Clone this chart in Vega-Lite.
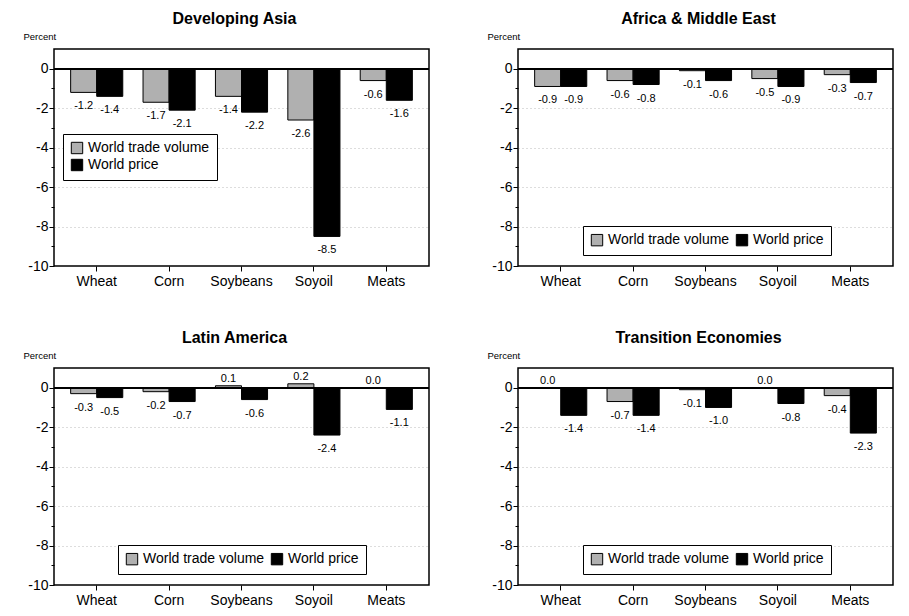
{
  "$schema": "https://vega.github.io/schema/vega-lite/v6.json",
  "padding": {"left": 22, "top": 10, "right": 0, "bottom": 0},
  "background": "white",
  "config": {
    "font": "Liberation Sans",
    "view": {"stroke": "black", "strokeWidth": 1.5},
    "title": {"fontSize": 16, "fontWeight": "bold", "color": "black", "anchor": "middle", "dx": -7, "offset": 4},
    "axis": {"labelColor": "black", "tickColor": "black", "titleColor": "black", "domain": false, "labelFont": "Liberation Sans", "titleFont": "Liberation Sans"},
    "legend": {"labelFontSize": 14, "labelColor": "black", "symbolType": "square", "symbolSize": 130, "symbolStrokeColor": "black", "symbolStrokeWidth": 1, "strokeColor": "black", "fillColor": "white", "padding": 7, "labelOffset": 4, "columnPadding": 4, "rowPadding": 1, "title": null}
  },
  "data": {"values": [
    {"region": "Developing Asia", "commodity": "Wheat", "series": "World trade volume", "value": -1.2},
    {"region": "Developing Asia", "commodity": "Wheat", "series": "World price", "value": -1.4},
    {"region": "Developing Asia", "commodity": "Corn", "series": "World trade volume", "value": -1.7},
    {"region": "Developing Asia", "commodity": "Corn", "series": "World price", "value": -2.1},
    {"region": "Developing Asia", "commodity": "Soybeans", "series": "World trade volume", "value": -1.4},
    {"region": "Developing Asia", "commodity": "Soybeans", "series": "World price", "value": -2.2},
    {"region": "Developing Asia", "commodity": "Soyoil", "series": "World trade volume", "value": -2.6},
    {"region": "Developing Asia", "commodity": "Soyoil", "series": "World price", "value": -8.5},
    {"region": "Developing Asia", "commodity": "Meats", "series": "World trade volume", "value": -0.6},
    {"region": "Developing Asia", "commodity": "Meats", "series": "World price", "value": -1.6},
    {"region": "Africa & Middle East", "commodity": "Wheat", "series": "World trade volume", "value": -0.9},
    {"region": "Africa & Middle East", "commodity": "Wheat", "series": "World price", "value": -0.9},
    {"region": "Africa & Middle East", "commodity": "Corn", "series": "World trade volume", "value": -0.6},
    {"region": "Africa & Middle East", "commodity": "Corn", "series": "World price", "value": -0.8},
    {"region": "Africa & Middle East", "commodity": "Soybeans", "series": "World trade volume", "value": -0.1},
    {"region": "Africa & Middle East", "commodity": "Soybeans", "series": "World price", "value": -0.6},
    {"region": "Africa & Middle East", "commodity": "Soyoil", "series": "World trade volume", "value": -0.5},
    {"region": "Africa & Middle East", "commodity": "Soyoil", "series": "World price", "value": -0.9},
    {"region": "Africa & Middle East", "commodity": "Meats", "series": "World trade volume", "value": -0.3},
    {"region": "Africa & Middle East", "commodity": "Meats", "series": "World price", "value": -0.7},
    {"region": "Latin America", "commodity": "Wheat", "series": "World trade volume", "value": -0.3},
    {"region": "Latin America", "commodity": "Wheat", "series": "World price", "value": -0.5},
    {"region": "Latin America", "commodity": "Corn", "series": "World trade volume", "value": -0.2},
    {"region": "Latin America", "commodity": "Corn", "series": "World price", "value": -0.7},
    {"region": "Latin America", "commodity": "Soybeans", "series": "World trade volume", "value": 0.1},
    {"region": "Latin America", "commodity": "Soybeans", "series": "World price", "value": -0.6},
    {"region": "Latin America", "commodity": "Soyoil", "series": "World trade volume", "value": 0.2},
    {"region": "Latin America", "commodity": "Soyoil", "series": "World price", "value": -2.4},
    {"region": "Latin America", "commodity": "Meats", "series": "World trade volume", "value": 0.0},
    {"region": "Latin America", "commodity": "Meats", "series": "World price", "value": -1.1},
    {"region": "Transition Economies", "commodity": "Wheat", "series": "World trade volume", "value": 0.0},
    {"region": "Transition Economies", "commodity": "Wheat", "series": "World price", "value": -1.4},
    {"region": "Transition Economies", "commodity": "Corn", "series": "World trade volume", "value": -0.7},
    {"region": "Transition Economies", "commodity": "Corn", "series": "World price", "value": -1.4},
    {"region": "Transition Economies", "commodity": "Soybeans", "series": "World trade volume", "value": -0.1},
    {"region": "Transition Economies", "commodity": "Soybeans", "series": "World price", "value": -1.0},
    {"region": "Transition Economies", "commodity": "Soyoil", "series": "World trade volume", "value": 0.0},
    {"region": "Transition Economies", "commodity": "Soyoil", "series": "World price", "value": -0.8},
    {"region": "Transition Economies", "commodity": "Meats", "series": "World trade volume", "value": -0.4},
    {"region": "Transition Economies", "commodity": "Meats", "series": "World price", "value": -2.3}
  ]},
  "resolve": {"scale": {"color": "independent"}, "legend": {"color": "independent"}},
  "vconcat": [
    {
      "resolve": {"scale": {"color": "independent"}, "legend": {"color": "independent"}},
      "hconcat": [
        {
          "title": "Developing Asia",
          "width": 375, "height": 217,
          "transform": [{"filter": "datum.region == 'Developing Asia'"}],
          "encoding": {
            "x": {"field": "commodity", "type": "nominal", "sort": ["Wheat", "Corn", "Soybeans", "Soyoil", "Meats"], "scale": {"paddingInner": 0.28, "paddingOuter": 0.23}, "axis": {"title": null, "labelAngle": 0, "labelFontSize": 14, "tickSize": 5, "labelPadding": 3}},
            "xOffset": {"field": "series", "type": "nominal", "sort": ["World trade volume", "World price"], "scale": {"paddingInner": 0}},
            "y": {"field": "value", "type": "quantitative", "scale": {"domain": [-10, 1], "nice": false}, "axis": {"values": [-10, -9, -8, -7, -6, -5, -4, -3, -2, -1, 0], "labelExpr": "datum.value % 2 == 0 ? replace(datum.label, '−', '-') : ''", "labelFontSize": 14, "labelPadding": 1, "tickSize": {"condition": {"test": "datum.value % 2 != 0", "value": 3}, "value": 5}, "grid": true, "gridDash": [1, 3], "gridColor": "#bbbbbb", "gridOpacity": {"condition": {"test": "datum.value % 2 != 0 || datum.value == 0 || datum.value == -10", "value": 0}, "value": 1}, "title": "Percent", "titleAngle": 0, "titleAlign": "left", "titleBaseline": "alphabetic", "titleX": -31, "titleY": -10, "titleFontSize": 9.5, "titleFontWeight": "normal"}}
          },
          "layer": [
            {"mark": {"type": "bar", "stroke": "black", "strokeWidth": 1}, "encoding": {"color": {"field": "series", "type": "nominal", "sort": ["World trade volume", "World price"], "scale": {"domain": ["World trade volume", "World price"], "range": ["#b0b0b0", "#000000"]}, "legend": {"orient": "none", "legendX": 9, "legendY": 85, "direction": "vertical"}}}},
            {"transform": [{"filter": "datum.value < 0"}], "mark": {"type": "text", "baseline": "top", "dy": 8, "fontSize": 11, "color": "black", "text": {"expr": "replace(format(datum.value, '.1f'), '−', '-')"}}},
            {"transform": [{"filter": "datum.value >= 0"}], "mark": {"type": "text", "baseline": "bottom", "dy": -2, "fontSize": 11, "color": "black", "text": {"expr": "replace(format(datum.value, '.1f'), '−', '-')"}}},
            {"mark": {"type": "rule", "color": "black", "strokeWidth": 1.5}, "encoding": {"y": {"datum": 0}, "x": null, "xOffset": null}}
          ]
        },
        {
          "title": "Africa & Middle East",
          "width": 375, "height": 217,
          "transform": [{"filter": "datum.region == 'Africa & Middle East'"}],
          "encoding": {
            "x": {"field": "commodity", "type": "nominal", "sort": ["Wheat", "Corn", "Soybeans", "Soyoil", "Meats"], "scale": {"paddingInner": 0.28, "paddingOuter": 0.23}, "axis": {"title": null, "labelAngle": 0, "labelFontSize": 14, "tickSize": 5, "labelPadding": 3}},
            "xOffset": {"field": "series", "type": "nominal", "sort": ["World trade volume", "World price"], "scale": {"paddingInner": 0}},
            "y": {"field": "value", "type": "quantitative", "scale": {"domain": [-10, 1], "nice": false}, "axis": {"values": [-10, -9, -8, -7, -6, -5, -4, -3, -2, -1, 0], "labelExpr": "datum.value % 2 == 0 ? replace(datum.label, '−', '-') : ''", "labelFontSize": 14, "labelPadding": 1, "tickSize": {"condition": {"test": "datum.value % 2 != 0", "value": 3}, "value": 5}, "grid": true, "gridDash": [1, 3], "gridColor": "#bbbbbb", "gridOpacity": {"condition": {"test": "datum.value % 2 != 0 || datum.value == 0 || datum.value == -10", "value": 0}, "value": 1}, "title": "Percent", "titleAngle": 0, "titleAlign": "left", "titleBaseline": "alphabetic", "titleX": -31, "titleY": -10, "titleFontSize": 9.5, "titleFontWeight": "normal"}}
          },
          "layer": [
            {"mark": {"type": "bar", "stroke": "black", "strokeWidth": 1}, "encoding": {"color": {"field": "series", "type": "nominal", "sort": ["World trade volume", "World price"], "scale": {"domain": ["World trade volume", "World price"], "range": ["#b0b0b0", "#000000"]}, "legend": {"orient": "none", "legendX": 65, "legendY": 177, "direction": "horizontal"}}}},
            {"transform": [{"filter": "datum.value < 0"}], "mark": {"type": "text", "baseline": "top", "dy": 8, "fontSize": 11, "color": "black", "text": {"expr": "replace(format(datum.value, '.1f'), '−', '-')"}}},
            {"transform": [{"filter": "datum.value >= 0"}], "mark": {"type": "text", "baseline": "bottom", "dy": -2, "fontSize": 11, "color": "black", "text": {"expr": "replace(format(datum.value, '.1f'), '−', '-')"}}},
            {"mark": {"type": "rule", "color": "black", "strokeWidth": 1.5}, "encoding": {"y": {"datum": 0}, "x": null, "xOffset": null}}
          ]
        }
      ],
      "spacing": 55
    },
    {
      "resolve": {"scale": {"color": "independent"}, "legend": {"color": "independent"}},
      "hconcat": [
        {
          "title": "Latin America",
          "width": 375, "height": 217,
          "transform": [{"filter": "datum.region == 'Latin America'"}],
          "encoding": {
            "x": {"field": "commodity", "type": "nominal", "sort": ["Wheat", "Corn", "Soybeans", "Soyoil", "Meats"], "scale": {"paddingInner": 0.28, "paddingOuter": 0.23}, "axis": {"title": null, "labelAngle": 0, "labelFontSize": 14, "tickSize": 5, "labelPadding": 3}},
            "xOffset": {"field": "series", "type": "nominal", "sort": ["World trade volume", "World price"], "scale": {"paddingInner": 0}},
            "y": {"field": "value", "type": "quantitative", "scale": {"domain": [-10, 1], "nice": false}, "axis": {"values": [-10, -9, -8, -7, -6, -5, -4, -3, -2, -1, 0], "labelExpr": "datum.value % 2 == 0 ? replace(datum.label, '−', '-') : ''", "labelFontSize": 14, "labelPadding": 1, "tickSize": {"condition": {"test": "datum.value % 2 != 0", "value": 3}, "value": 5}, "grid": true, "gridDash": [1, 3], "gridColor": "#bbbbbb", "gridOpacity": {"condition": {"test": "datum.value % 2 != 0 || datum.value == 0 || datum.value == -10", "value": 0}, "value": 1}, "title": "Percent", "titleAngle": 0, "titleAlign": "left", "titleBaseline": "alphabetic", "titleX": -31, "titleY": -10, "titleFontSize": 9.5, "titleFontWeight": "normal"}}
          },
          "layer": [
            {"mark": {"type": "bar", "stroke": "black", "strokeWidth": 1}, "encoding": {"color": {"field": "series", "type": "nominal", "sort": ["World trade volume", "World price"], "scale": {"domain": ["World trade volume", "World price"], "range": ["#b0b0b0", "#000000"]}, "legend": {"orient": "none", "legendX": 64, "legendY": 177, "direction": "horizontal"}}}},
            {"transform": [{"filter": "datum.value < 0"}], "mark": {"type": "text", "baseline": "top", "dy": 8, "fontSize": 11, "color": "black", "text": {"expr": "replace(format(datum.value, '.1f'), '−', '-')"}}},
            {"transform": [{"filter": "datum.value >= 0"}], "mark": {"type": "text", "baseline": "bottom", "dy": -2, "fontSize": 11, "color": "black", "text": {"expr": "replace(format(datum.value, '.1f'), '−', '-')"}}},
            {"mark": {"type": "rule", "color": "black", "strokeWidth": 1.5}, "encoding": {"y": {"datum": 0}, "x": null, "xOffset": null}}
          ]
        },
        {
          "title": "Transition Economies",
          "width": 375, "height": 217,
          "transform": [{"filter": "datum.region == 'Transition Economies'"}],
          "encoding": {
            "x": {"field": "commodity", "type": "nominal", "sort": ["Wheat", "Corn", "Soybeans", "Soyoil", "Meats"], "scale": {"paddingInner": 0.28, "paddingOuter": 0.23}, "axis": {"title": null, "labelAngle": 0, "labelFontSize": 14, "tickSize": 5, "labelPadding": 3}},
            "xOffset": {"field": "series", "type": "nominal", "sort": ["World trade volume", "World price"], "scale": {"paddingInner": 0}},
            "y": {"field": "value", "type": "quantitative", "scale": {"domain": [-10, 1], "nice": false}, "axis": {"values": [-10, -9, -8, -7, -6, -5, -4, -3, -2, -1, 0], "labelExpr": "datum.value % 2 == 0 ? replace(datum.label, '−', '-') : ''", "labelFontSize": 14, "labelPadding": 1, "tickSize": {"condition": {"test": "datum.value % 2 != 0", "value": 3}, "value": 5}, "grid": true, "gridDash": [1, 3], "gridColor": "#bbbbbb", "gridOpacity": {"condition": {"test": "datum.value % 2 != 0 || datum.value == 0 || datum.value == -10", "value": 0}, "value": 1}, "title": "Percent", "titleAngle": 0, "titleAlign": "left", "titleBaseline": "alphabetic", "titleX": -31, "titleY": -10, "titleFontSize": 9.5, "titleFontWeight": "normal"}}
          },
          "layer": [
            {"mark": {"type": "bar", "stroke": "black", "strokeWidth": 1}, "encoding": {"color": {"field": "series", "type": "nominal", "sort": ["World trade volume", "World price"], "scale": {"domain": ["World trade volume", "World price"], "range": ["#b0b0b0", "#000000"]}, "legend": {"orient": "none", "legendX": 65, "legendY": 177, "direction": "horizontal"}}}},
            {"transform": [{"filter": "datum.value < 0"}], "mark": {"type": "text", "baseline": "top", "dy": 8, "fontSize": 11, "color": "black", "text": {"expr": "replace(format(datum.value, '.1f'), '−', '-')"}}},
            {"transform": [{"filter": "datum.value >= 0"}], "mark": {"type": "text", "baseline": "bottom", "dy": -2, "fontSize": 11, "color": "black", "text": {"expr": "replace(format(datum.value, '.1f'), '−', '-')"}}},
            {"mark": {"type": "rule", "color": "black", "strokeWidth": 1.5}, "encoding": {"y": {"datum": 0}, "x": null, "xOffset": null}}
          ]
        }
      ],
      "spacing": 55
    }
  ],
  "spacing": 40
}
